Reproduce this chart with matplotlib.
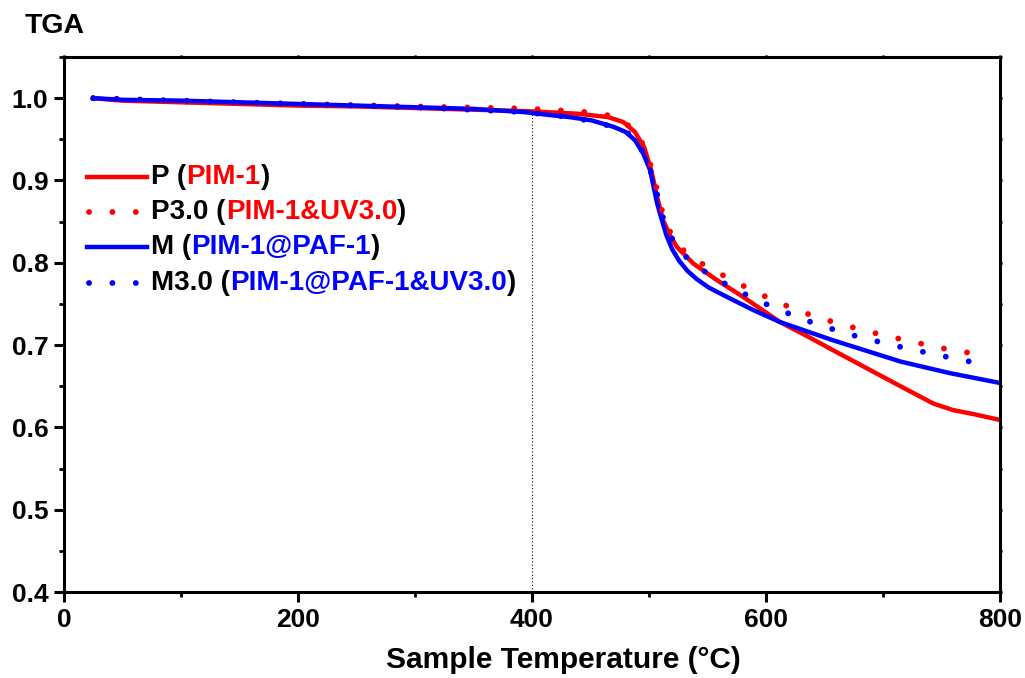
import matplotlib.pyplot as plt
from matplotlib.ticker import MultipleLocator, FormatStrFormatter

plt.rcParams['font.family'] = ['Liberation Sans', 'DejaVu Sans']
plt.rcParams['font.weight'] = 'bold'

# P (PIM-1), solid red
temp_p = [25, 50, 100, 150, 200, 250, 300, 350, 400, 440, 465, 478, 488, 496, 502, 507,
          512, 518, 524, 538, 558, 580, 612, 635, 657, 686, 715, 743, 760, 778, 800]
tga_p = [1.0, 0.997, 0.995, 0.993, 0.991, 0.990, 0.988, 0.986, 0.984, 0.981, 0.977, 0.971,
         0.959, 0.940, 0.912, 0.880, 0.852, 0.833, 0.819, 0.799, 0.779, 0.759, 0.728, 0.711,
         0.694, 0.672, 0.650, 0.629, 0.621, 0.616, 0.609]

# P3.0 (PIM-1&UV3.0), dotted red
temp_p3 = [25, 100, 200, 300, 372, 394, 412, 432, 451, 470, 489, 499, 505, 509, 514, 525,
           544, 563, 582, 601, 627, 646, 665, 684, 703, 723, 744, 763, 782, 790]
tga_p3 = [1.0, 0.996, 0.993, 0.990, 0.988, 0.9875, 0.986, 0.9846, 0.9826, 0.978, 0.961, 0.931,
          0.900, 0.875, 0.848, 0.820, 0.800, 0.785, 0.771, 0.758, 0.742, 0.733, 0.725, 0.718,
          0.711, 0.705, 0.698, 0.693, 0.689, 0.687]

# M (PIM-1@PAF-1), solid blue
temp_m = [25, 50, 100, 150, 200, 250, 300, 350, 394, 412, 432, 451, 470, 480, 488, 495,
          501, 504, 507, 511, 515, 520, 526, 533, 541, 551, 566, 590, 612, 657, 715, 757, 800]
tga_m = [1.0, 0.998, 0.997, 0.995, 0.993, 0.991, 0.989, 0.987, 0.983, 0.980, 0.977, 0.973,
         0.965, 0.959, 0.949, 0.933, 0.9125, 0.892, 0.872, 0.852, 0.833, 0.816, 0.802, 0.790,
         0.780, 0.770, 0.759, 0.742, 0.728, 0.706, 0.680, 0.666, 0.654]

# M3.0 (PIM-1@PAF-1&UV3.0), dotted blue
temp_m3 = [25, 100, 200, 300, 394, 432, 451, 470, 489, 500, 506, 510, 517, 530, 548, 567,
           586, 606, 627, 646, 665, 684, 703, 723, 744, 763, 782, 790]
tga_m3 = [1.0, 0.997, 0.993, 0.989, 0.983, 0.977, 0.972, 0.965, 0.953, 0.917, 0.890, 0.863,
          0.835, 0.809, 0.789, 0.773, 0.759, 0.746, 0.734, 0.724, 0.716, 0.708, 0.702, 0.695,
          0.689, 0.683, 0.678, 0.676]

marker_temp = 400
marker_tga = 0.984

legend_rows = [
    ("P (", "PIM-1", "red", "-"),
    ("P3.0 (", "PIM-1&UV3.0", "red", ":"),
    ("M (", "PIM-1@PAF-1", "blue", "-"),
    ("M3.0 (", "PIM-1@PAF-1&UV3.0", "blue", ":"),
]

dots = (0, (0.01, 4.0))

fig = plt.figure(figsize=(10.25, 6.78), dpi=100)
ax = fig.add_axes([0.0624, 0.1268, 0.9132, 0.7891])

ax.plot(temp_p, tga_p, color="red", lw=3.2)
ax.plot(temp_m, tga_m, color="blue", lw=3.2)
ax.plot(temp_p3, tga_p3, color="red", lw=4.2, linestyle=dots, dash_capstyle="round")
ax.plot(temp_m3, tga_m3, color="blue", lw=4.2, linestyle=dots, dash_capstyle="round")
ax.plot([marker_temp, marker_temp], [0.4, marker_tga], color="black", lw=0.8, linestyle=(0, (1, 2)))

ax.set_xlim(0, 800)
ax.set_ylim(0.4, 1.05)
ax.xaxis.set_major_locator(MultipleLocator(200))
ax.xaxis.set_minor_locator(MultipleLocator(100))
ax.yaxis.set_major_locator(MultipleLocator(0.1))
ax.yaxis.set_minor_locator(MultipleLocator(0.05))
ax.yaxis.set_major_formatter(FormatStrFormatter("%.1f"))

for s in ax.spines.values():
    s.set_linewidth(2.2)
ax.tick_params(which="major", direction="out", length=7.2, width=2.2, labelsize=19, pad=4)
ax.tick_params(which="minor", direction="out", length=3.6, width=2.0)
ax.tick_params(which="both", top=True, right=True)
ax.tick_params(axis="both", which="both", labeltop=False, labelright=False)
for t in ax.xaxis.get_major_ticks() + ax.xaxis.get_minor_ticks():
    t.tick2line.set_markersize(1.2)
for t in ax.yaxis.get_major_ticks() + ax.yaxis.get_minor_ticks():
    t.tick2line.set_markersize(1.2)
for lab in ax.get_xticklabels() + ax.get_yticklabels():
    lab.set_fontweight("bold")

# hand-made legend with two-colour labels
row_y = [0.776, 0.711, 0.644, 0.577]
for (head, name, col, ls), y in zip(legend_rows, row_y):
    if ls == "-":
        ax.plot([0.0246, 0.0887], [y, y], color=col, lw=3.2, transform=ax.transAxes)
    else:
        ax.plot([0.0266, 0.0887], [y, y], color=col, lw=4.2, linestyle=dots,
                dash_capstyle="round", transform=ax.transAxes)
    t1 = ax.text(0.0935, y, head, transform=ax.transAxes, fontsize=20, fontweight="bold",
                 va="center", ha="left")
    t2 = ax.annotate(name, xy=(1, 0), xycoords=t1, va="bottom", ha="left",
                     fontsize=20, fontweight="bold", color=col)
    ax.annotate(")", xy=(1, 0), xycoords=t2, va="bottom", ha="left",
                fontsize=20, fontweight="bold", color="black")

fig.text(0.0244, 0.9617, "TGA", fontsize=20.5, fontweight="bold", va="center", ha="left")
fig.text(0.550, 0.0265, "Sample Temperature (°C)", fontsize=21.5, fontweight="bold",
         va="center", ha="center")

fig.savefig("out.png", dpi=100)
